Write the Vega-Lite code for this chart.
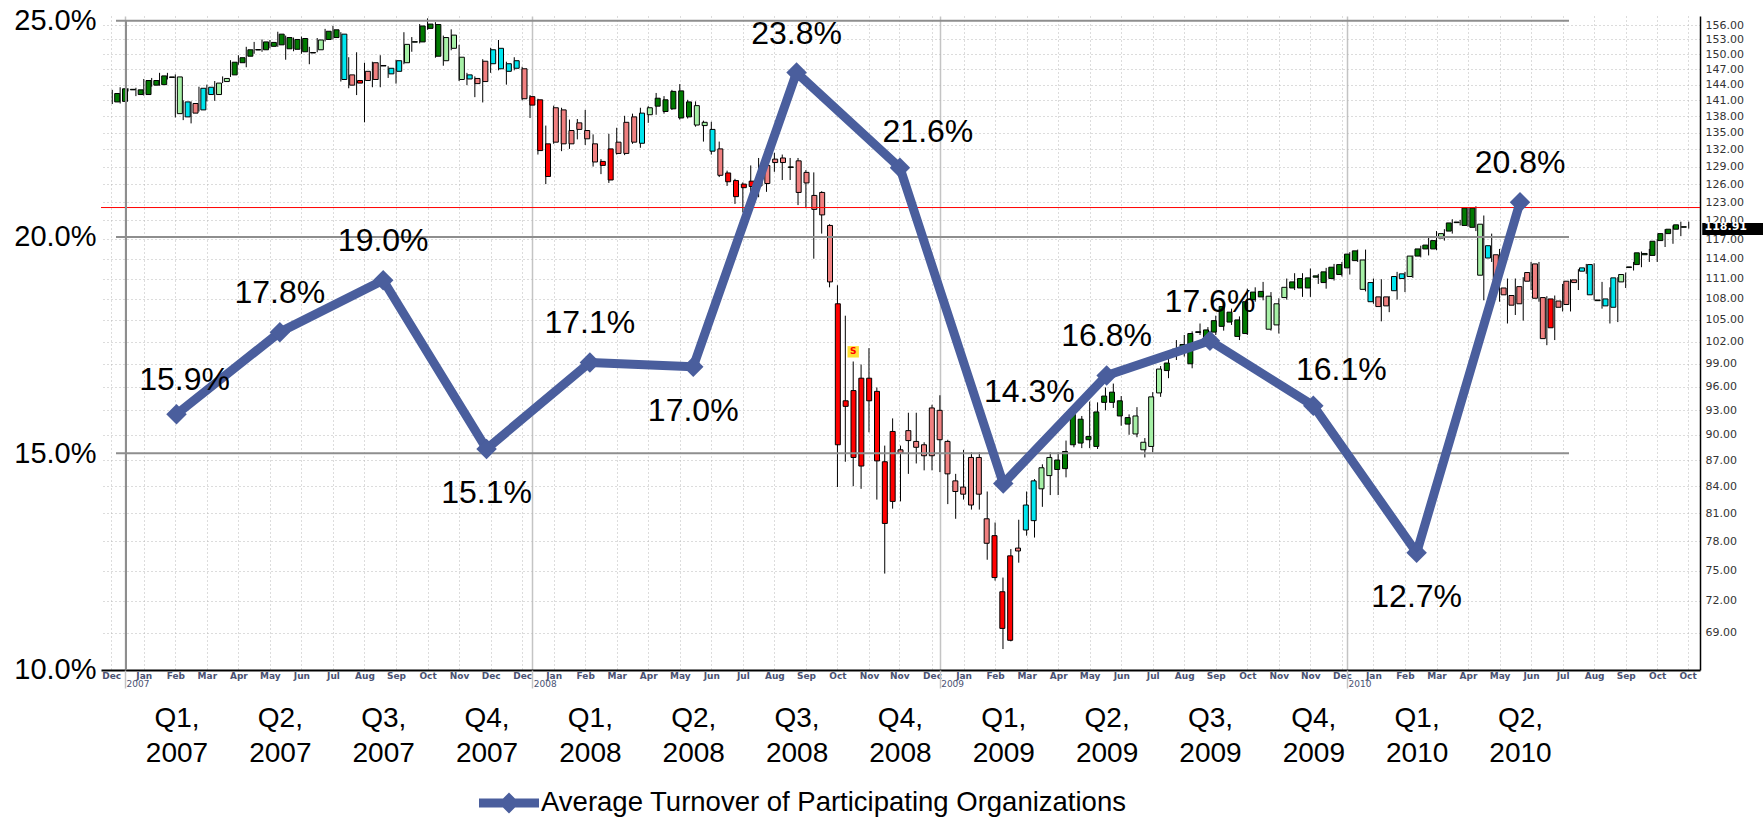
{
  "$schema": "https://vega.github.io/schema/vega-lite/v6.json",
  "width": 1599,
  "height": 654,
  "autosize": {"type": "none"},
  "padding": {"left": 101, "top": 16, "right": 63, "bottom": 150},
  "background": "white",
  "config": {"view": {"stroke": null}, "font": "Liberation Sans"},
  "datasets": {
    "candles": [
      {"d":"2007-01-01","o":140.7,"h":143.0,"l":140.3,"c":142.3,"s":"strong up"},
      {"d":"2007-01-08","o":140.8,"h":143.5,"l":140.4,"c":143.2,"s":"strong up"},
      {"d":"2007-01-15","o":143.0,"h":143.3,"l":142.7,"c":143.1,"s":"strong up"},
      {"d":"2007-01-22","o":142.1,"h":143.4,"l":141.8,"c":143.0,"s":"strong up"},
      {"d":"2007-01-29","o":142.1,"h":145.1,"l":141.9,"c":144.8,"s":"strong up"},
      {"d":"2007-02-05","o":143.9,"h":145.3,"l":143.6,"c":144.8,"s":"strong up"},
      {"d":"2007-02-12","o":144.0,"h":146.3,"l":143.8,"c":145.7,"s":"strong up"},
      {"d":"2007-02-19","o":145.4,"h":146.3,"l":145.0,"c":145.5,"s":"strong up"},
      {"d":"2007-02-26","o":145.5,"h":146.0,"l":137.8,"c":138.5,"s":"weak up"},
      {"d":"2007-03-05","o":137.9,"h":141.0,"l":137.3,"c":140.7,"s":"neutral"},
      {"d":"2007-03-12","o":140.4,"h":140.8,"l":136.7,"c":138.6,"s":"weak down"},
      {"d":"2007-03-19","o":139.2,"h":143.6,"l":138.9,"c":143.3,"s":"neutral"},
      {"d":"2007-03-26","o":143.5,"h":144.0,"l":140.8,"c":142.1,"s":"neutral"},
      {"d":"2007-04-02","o":142.1,"h":144.7,"l":140.9,"c":144.3,"s":"weak up"},
      {"d":"2007-04-09","o":144.6,"h":145.6,"l":144.3,"c":145.2,"s":"weak up"},
      {"d":"2007-04-16","o":145.9,"h":148.8,"l":145.5,"c":148.4,"s":"strong up"},
      {"d":"2007-04-23","o":148.3,"h":149.8,"l":147.9,"c":149.3,"s":"strong up"},
      {"d":"2007-04-30","o":149.6,"h":151.5,"l":147.4,"c":150.9,"s":"strong up"},
      {"d":"2007-05-07","o":150.85,"h":152.5,"l":150.1,"c":150.95,"s":"strong up"},
      {"d":"2007-05-14","o":150.9,"h":153.0,"l":150.5,"c":152.5,"s":"strong up"},
      {"d":"2007-05-21","o":151.6,"h":152.9,"l":151.2,"c":152.4,"s":"strong up"},
      {"d":"2007-05-28","o":151.9,"h":154.6,"l":151.5,"c":154.1,"s":"strong up"},
      {"d":"2007-06-04","o":153.4,"h":153.8,"l":148.9,"c":151.1,"s":"strong up"},
      {"d":"2007-06-11","o":151.0,"h":153.4,"l":150.6,"c":153.0,"s":"strong up"},
      {"d":"2007-06-18","o":153.2,"h":153.6,"l":150.1,"c":150.5,"s":"strong up"},
      {"d":"2007-06-25","o":150.25,"h":151.5,"l":148.0,"c":150.35,"s":"strong up"},
      {"d":"2007-07-02","o":150.9,"h":153.3,"l":150.4,"c":152.9,"s":"weak up"},
      {"d":"2007-07-09","o":153.0,"h":155.2,"l":152.6,"c":154.7,"s":"strong up"},
      {"d":"2007-07-16","o":153.4,"h":155.8,"l":153.0,"c":155.0,"s":"strong up"},
      {"d":"2007-07-23","o":154.1,"h":154.5,"l":144.6,"c":145.0,"s":"neutral"},
      {"d":"2007-07-30","o":145.9,"h":149.4,"l":143.3,"c":143.9,"s":"weak down"},
      {"d":"2007-08-06","o":144.8,"h":150.4,"l":142.0,"c":144.3,"s":"strong down"},
      {"d":"2007-08-13","o":146.6,"h":148.3,"l":136.9,"c":144.8,"s":"weak down"},
      {"d":"2007-08-20","o":145.0,"h":148.5,"l":143.5,"c":148.3,"s":"weak down"},
      {"d":"2007-08-27","o":147.65,"h":149.8,"l":143.5,"c":147.75,"s":"strong up"},
      {"d":"2007-09-03","o":147.2,"h":147.6,"l":145.3,"c":146.1,"s":"neutral"},
      {"d":"2007-09-10","o":146.6,"h":148.9,"l":144.2,"c":148.7,"s":"neutral"},
      {"d":"2007-09-17","o":148.3,"h":154.5,"l":148.0,"c":152.0,"s":"weak up"},
      {"d":"2007-09-24","o":152.45,"h":153.5,"l":150.5,"c":152.55,"s":"strong up"},
      {"d":"2007-10-01","o":152.5,"h":156.2,"l":152.2,"c":155.8,"s":"strong up"},
      {"d":"2007-10-08","o":155.3,"h":157.4,"l":155.0,"c":156.2,"s":"strong up"},
      {"d":"2007-10-15","o":156.1,"h":156.6,"l":149.3,"c":149.6,"s":"strong up"},
      {"d":"2007-10-22","o":148.7,"h":153.8,"l":147.7,"c":153.4,"s":"weak up"},
      {"d":"2007-10-29","o":153.9,"h":155.1,"l":150.8,"c":151.2,"s":"weak up"},
      {"d":"2007-11-05","o":149.4,"h":151.9,"l":144.7,"c":145.0,"s":"weak up"},
      {"d":"2007-11-12","o":145.1,"h":146.3,"l":143.9,"c":145.9,"s":"neutral"},
      {"d":"2007-11-19","o":145.2,"h":145.6,"l":141.6,"c":144.2,"s":"weak down"},
      {"d":"2007-11-26","o":144.6,"h":149.0,"l":140.6,"c":148.6,"s":"weak down"},
      {"d":"2007-12-03","o":148.1,"h":151.3,"l":146.3,"c":150.9,"s":"neutral"},
      {"d":"2007-12-10","o":151.2,"h":152.9,"l":146.8,"c":147.1,"s":"neutral"},
      {"d":"2007-12-17","o":146.6,"h":148.5,"l":144.0,"c":148.1,"s":"neutral"},
      {"d":"2007-12-24","o":148.7,"h":149.4,"l":146.8,"c":147.2,"s":"neutral"},
      {"d":"2007-12-31","o":147.1,"h":147.5,"l":141.0,"c":141.3,"s":"weak down"},
      {"d":"2008-01-07","o":141.7,"h":142.0,"l":137.7,"c":140.1,"s":"strong down"},
      {"d":"2008-01-14","o":141.1,"h":141.3,"l":131.1,"c":131.8,"s":"strong down"},
      {"d":"2008-01-21","o":127.3,"h":136.3,"l":126.0,"c":133.0,"s":"strong down"},
      {"d":"2008-01-28","o":133.3,"h":140.0,"l":133.0,"c":139.6,"s":"weak down"},
      {"d":"2008-02-04","o":139.2,"h":139.6,"l":131.7,"c":133.0,"s":"weak down"},
      {"d":"2008-02-11","o":133.0,"h":137.4,"l":132.1,"c":135.4,"s":"weak down"},
      {"d":"2008-02-18","o":135.6,"h":137.5,"l":133.8,"c":136.8,"s":"weak down"},
      {"d":"2008-02-25","o":135.4,"h":139.2,"l":132.8,"c":133.9,"s":"weak down"},
      {"d":"2008-03-03","o":133.0,"h":134.7,"l":129.0,"c":129.8,"s":"weak down"},
      {"d":"2008-03-10","o":129.9,"h":130.3,"l":127.7,"c":129.2,"s":"strong down"},
      {"d":"2008-03-17","o":126.7,"h":134.8,"l":126.2,"c":132.1,"s":"strong down"},
      {"d":"2008-03-24","o":133.3,"h":135.9,"l":131.1,"c":131.3,"s":"weak down"},
      {"d":"2008-03-31","o":131.3,"h":138.1,"l":131.0,"c":136.9,"s":"weak down"},
      {"d":"2008-04-07","o":137.9,"h":138.5,"l":133.0,"c":133.3,"s":"weak down"},
      {"d":"2008-04-14","o":133.1,"h":139.6,"l":132.3,"c":138.6,"s":"neutral"},
      {"d":"2008-04-21","o":138.3,"h":139.9,"l":136.8,"c":139.6,"s":"weak up"},
      {"d":"2008-04-28","o":139.9,"h":142.4,"l":138.3,"c":141.4,"s":"strong up"},
      {"d":"2008-05-05","o":141.1,"h":141.8,"l":138.5,"c":138.9,"s":"strong up"},
      {"d":"2008-05-12","o":139.4,"h":143.0,"l":139.2,"c":142.7,"s":"strong up"},
      {"d":"2008-05-19","o":142.8,"h":144.1,"l":137.4,"c":137.7,"s":"strong up"},
      {"d":"2008-05-26","o":137.9,"h":141.1,"l":137.6,"c":140.7,"s":"strong up"},
      {"d":"2008-06-02","o":140.0,"h":140.8,"l":136.1,"c":136.4,"s":"weak up"},
      {"d":"2008-06-09","o":136.3,"h":137.2,"l":133.4,"c":136.9,"s":"weak up"},
      {"d":"2008-06-16","o":135.6,"h":137.0,"l":131.1,"c":131.7,"s":"neutral"},
      {"d":"2008-06-23","o":132.1,"h":133.4,"l":127.2,"c":127.5,"s":"weak down"},
      {"d":"2008-06-30","o":127.9,"h":128.3,"l":125.7,"c":126.4,"s":"strong down"},
      {"d":"2008-07-07","o":126.6,"h":126.9,"l":122.7,"c":123.9,"s":"strong down"},
      {"d":"2008-07-14","o":125.4,"h":126.3,"l":121.3,"c":126.0,"s":"strong down"},
      {"d":"2008-07-21","o":126.5,"h":129.2,"l":123.5,"c":125.6,"s":"strong down"},
      {"d":"2008-07-28","o":125.7,"h":130.5,"l":123.8,"c":127.7,"s":"weak down"},
      {"d":"2008-08-04","o":126.1,"h":130.8,"l":124.7,"c":129.2,"s":"weak down"},
      {"d":"2008-08-11","o":130.3,"h":131.4,"l":128.1,"c":129.7,"s":"weak down"},
      {"d":"2008-08-18","o":130.5,"h":131.1,"l":126.7,"c":129.7,"s":"weak down"},
      {"d":"2008-08-25","o":128.85,"h":130.5,"l":126.7,"c":128.95,"s":"strong up"},
      {"d":"2008-09-01","o":130.0,"h":130.5,"l":122.5,"c":124.6,"s":"weak down"},
      {"d":"2008-09-08","o":126.2,"h":128.4,"l":122.0,"c":128.0,"s":"weak down"},
      {"d":"2008-09-15","o":124.1,"h":128.0,"l":114.0,"c":121.8,"s":"weak down"},
      {"d":"2008-09-22","o":124.6,"h":124.8,"l":117.9,"c":120.9,"s":"weak down"},
      {"d":"2008-09-29","o":119.2,"h":119.4,"l":109.7,"c":110.5,"s":"weak down"},
      {"d":"2008-10-06","o":107.3,"h":110.0,"l":83.9,"c":88.8,"s":"strong down"},
      {"d":"2008-10-13","o":93.5,"h":105.6,"l":86.8,"c":94.2,"s":"strong down"},
      {"d":"2008-10-20","o":95.5,"h":99.3,"l":84.0,"c":87.3,"s":"strong down"},
      {"d":"2008-10-27","o":86.3,"h":98.9,"l":83.7,"c":97.1,"s":"strong down"},
      {"d":"2008-11-03","o":97.1,"h":101.1,"l":90.3,"c":94.2,"s":"strong down"},
      {"d":"2008-11-10","o":95.4,"h":95.9,"l":82.5,"c":86.9,"s":"strong down"},
      {"d":"2008-11-17","o":86.8,"h":88.7,"l":74.7,"c":79.9,"s":"strong down"},
      {"d":"2008-11-24","o":82.3,"h":92.0,"l":81.5,"c":90.4,"s":"strong down"},
      {"d":"2008-12-01","o":88.2,"h":88.7,"l":82.3,"c":87.8,"s":"weak down"},
      {"d":"2008-12-08","o":89.3,"h":92.7,"l":85.4,"c":90.5,"s":"weak down"},
      {"d":"2008-12-15","o":89.2,"h":92.7,"l":86.6,"c":88.5,"s":"weak down"},
      {"d":"2008-12-22","o":88.8,"h":89.1,"l":85.8,"c":87.5,"s":"weak down"},
      {"d":"2008-12-29","o":87.5,"h":93.7,"l":85.8,"c":93.3,"s":"weak down"},
      {"d":"2009-01-05","o":93.0,"h":94.9,"l":85.6,"c":89.4,"s":"weak down"},
      {"d":"2009-01-12","o":89.2,"h":89.4,"l":82.0,"c":85.4,"s":"weak down"},
      {"d":"2009-01-19","o":84.6,"h":85.4,"l":80.4,"c":83.4,"s":"weak down"},
      {"d":"2009-01-26","o":83.1,"h":88.2,"l":82.5,"c":83.9,"s":"weak down"},
      {"d":"2009-02-02","o":81.9,"h":87.9,"l":81.4,"c":87.3,"s":"weak down"},
      {"d":"2009-02-09","o":87.3,"h":87.9,"l":81.4,"c":83.1,"s":"weak down"},
      {"d":"2009-02-16","o":80.4,"h":83.4,"l":76.1,"c":77.8,"s":"weak down"},
      {"d":"2009-02-23","o":78.6,"h":80.0,"l":74.0,"c":74.3,"s":"strong down"},
      {"d":"2009-03-02","o":72.9,"h":74.3,"l":67.5,"c":69.4,"s":"strong down"},
      {"d":"2009-03-09","o":68.3,"h":77.2,"l":68.2,"c":76.5,"s":"strong down"},
      {"d":"2009-03-16","o":77.0,"h":80.3,"l":75.8,"c":77.3,"s":"weak down"},
      {"d":"2009-03-23","o":79.2,"h":83.4,"l":78.6,"c":81.9,"s":"neutral"},
      {"d":"2009-03-30","o":80.2,"h":84.8,"l":78.4,"c":84.6,"s":"neutral"},
      {"d":"2009-04-06","o":83.7,"h":86.5,"l":81.7,"c":86.1,"s":"weak up"},
      {"d":"2009-04-13","o":85.2,"h":87.9,"l":83.0,"c":87.3,"s":"weak up"},
      {"d":"2009-04-20","o":85.9,"h":87.9,"l":83.0,"c":87.0,"s":"strong up"},
      {"d":"2009-04-27","o":86.0,"h":89.3,"l":85.0,"c":88.0,"s":"strong up"},
      {"d":"2009-05-04","o":88.8,"h":93.3,"l":88.5,"c":92.5,"s":"strong up"},
      {"d":"2009-05-11","o":91.9,"h":92.3,"l":88.4,"c":89.0,"s":"strong up"},
      {"d":"2009-05-18","o":89.4,"h":94.1,"l":88.4,"c":89.8,"s":"strong up"},
      {"d":"2009-05-25","o":88.6,"h":94.0,"l":88.3,"c":92.8,"s":"strong up"},
      {"d":"2009-06-01","o":94.0,"h":95.9,"l":93.0,"c":94.8,"s":"strong up"},
      {"d":"2009-06-08","o":94.0,"h":96.4,"l":93.3,"c":95.3,"s":"strong up"},
      {"d":"2009-06-15","o":94.2,"h":94.8,"l":91.1,"c":92.3,"s":"strong up"},
      {"d":"2009-06-22","o":91.3,"h":92.5,"l":90.0,"c":92.1,"s":"strong up"},
      {"d":"2009-06-29","o":92.3,"h":93.4,"l":89.7,"c":90.1,"s":"weak up"},
      {"d":"2009-07-06","o":89.1,"h":89.6,"l":87.3,"c":88.2,"s":"weak up"},
      {"d":"2009-07-13","o":88.6,"h":95.3,"l":87.9,"c":94.7,"s":"weak up"},
      {"d":"2009-07-20","o":95.2,"h":98.7,"l":94.7,"c":98.3,"s":"weak up"},
      {"d":"2009-07-27","o":98.1,"h":100.3,"l":97.1,"c":99.1,"s":"strong up"},
      {"d":"2009-08-03","o":100.85,"h":102.2,"l":99.5,"c":100.95,"s":"strong up"},
      {"d":"2009-08-10","o":101.3,"h":102.9,"l":99.97,"c":101.6,"s":"strong up"},
      {"d":"2009-08-17","o":99.0,"h":103.4,"l":98.4,"c":103.1,"s":"strong up"},
      {"d":"2009-08-24","o":103.25,"h":104.5,"l":102.9,"c":103.35,"s":"strong up"},
      {"d":"2009-08-31","o":102.3,"h":104.0,"l":101.8,"c":103.6,"s":"strong up"},
      {"d":"2009-09-07","o":103.3,"h":105.6,"l":102.9,"c":104.9,"s":"strong up"},
      {"d":"2009-09-14","o":104.1,"h":107.1,"l":103.5,"c":106.9,"s":"strong up"},
      {"d":"2009-09-21","o":104.7,"h":106.6,"l":104.3,"c":106.1,"s":"strong up"},
      {"d":"2009-09-28","o":102.7,"h":105.5,"l":102.2,"c":105.0,"s":"strong up"},
      {"d":"2009-10-05","o":103.1,"h":109.5,"l":102.9,"c":107.6,"s":"strong up"},
      {"d":"2009-10-12","o":107.9,"h":109.7,"l":107.6,"c":109.0,"s":"strong up"},
      {"d":"2009-10-19","o":108.3,"h":110.5,"l":107.8,"c":109.1,"s":"strong up"},
      {"d":"2009-10-26","o":103.7,"h":109.0,"l":103.5,"c":108.4,"s":"weak up"},
      {"d":"2009-11-02","o":104.3,"h":108.1,"l":103.1,"c":107.3,"s":"weak up"},
      {"d":"2009-11-09","o":108.2,"h":111.0,"l":107.9,"c":109.7,"s":"weak up"},
      {"d":"2009-11-16","o":109.6,"h":111.8,"l":109.3,"c":110.5,"s":"strong up"},
      {"d":"2009-11-23","o":109.6,"h":111.8,"l":108.3,"c":111.0,"s":"strong up"},
      {"d":"2009-11-30","o":109.6,"h":112.5,"l":108.3,"c":111.1,"s":"strong up"},
      {"d":"2009-12-07","o":111.2,"h":111.7,"l":110.2,"c":111.4,"s":"strong up"},
      {"d":"2009-12-14","o":110.4,"h":112.6,"l":109.5,"c":112.0,"s":"strong up"},
      {"d":"2009-12-21","o":111.0,"h":113.2,"l":110.7,"c":112.7,"s":"strong up"},
      {"d":"2009-12-28","o":111.6,"h":113.5,"l":111.3,"c":113.1,"s":"strong up"},
      {"d":"2010-01-04","o":112.6,"h":115.0,"l":111.6,"c":114.7,"s":"strong up"},
      {"d":"2010-01-11","o":113.7,"h":115.4,"l":113.5,"c":115.2,"s":"strong up"},
      {"d":"2010-01-18","o":113.8,"h":115.4,"l":109.1,"c":109.4,"s":"weak up"},
      {"d":"2010-01-25","o":107.6,"h":111.0,"l":107.3,"c":110.4,"s":"neutral"},
      {"d":"2010-02-01","o":108.3,"h":110.9,"l":104.8,"c":106.9,"s":"weak down"},
      {"d":"2010-02-08","o":108.3,"h":108.4,"l":106.1,"c":107.0,"s":"weak down"},
      {"d":"2010-02-15","o":109.2,"h":112.0,"l":107.9,"c":111.3,"s":"neutral"},
      {"d":"2010-02-22","o":111.0,"h":112.0,"l":109.0,"c":111.7,"s":"neutral"},
      {"d":"2010-03-01","o":111.3,"h":114.5,"l":111.1,"c":114.4,"s":"weak up"},
      {"d":"2010-03-08","o":114.4,"h":116.0,"l":114.2,"c":115.5,"s":"strong up"},
      {"d":"2010-03-15","o":115.5,"h":117.4,"l":114.5,"c":116.1,"s":"strong up"},
      {"d":"2010-03-22","o":115.5,"h":118.3,"l":115.3,"c":116.8,"s":"strong up"},
      {"d":"2010-03-29","o":117.2,"h":118.6,"l":116.8,"c":117.9,"s":"weak up"},
      {"d":"2010-04-05","o":118.3,"h":120.2,"l":117.9,"c":119.6,"s":"strong up"},
      {"d":"2010-04-12","o":119.65,"h":120.1,"l":119.2,"c":119.75,"s":"strong up"},
      {"d":"2010-04-19","o":119.2,"h":122.1,"l":119.0,"c":122.0,"s":"strong up"},
      {"d":"2010-04-26","o":122.0,"h":122.3,"l":118.3,"c":118.9,"s":"strong up"},
      {"d":"2010-05-03","o":119.4,"h":120.8,"l":107.8,"c":111.5,"s":"weak up"},
      {"d":"2010-05-10","o":114.1,"h":117.9,"l":113.5,"c":116.0,"s":"neutral"},
      {"d":"2010-05-17","o":114.6,"h":115.5,"l":107.6,"c":109.5,"s":"weak down"},
      {"d":"2010-05-24","o":109.6,"h":111.0,"l":104.5,"c":108.6,"s":"weak down"},
      {"d":"2010-05-31","o":108.5,"h":111.0,"l":105.7,"c":107.1,"s":"weak down"},
      {"d":"2010-06-07","o":107.3,"h":111.2,"l":104.9,"c":109.8,"s":"weak down"},
      {"d":"2010-06-14","o":110.6,"h":113.5,"l":109.3,"c":111.9,"s":"weak down"},
      {"d":"2010-06-21","o":113.2,"h":113.5,"l":107.6,"c":108.1,"s":"weak down"},
      {"d":"2010-06-28","o":108.2,"h":108.4,"l":101.5,"c":102.4,"s":"weak down"},
      {"d":"2010-07-05","o":103.9,"h":108.5,"l":102.2,"c":108.0,"s":"strong down"},
      {"d":"2010-07-12","o":107.7,"h":110.2,"l":106.2,"c":106.8,"s":"weak down"},
      {"d":"2010-07-19","o":107.2,"h":110.9,"l":106.2,"c":110.6,"s":"weak down"},
      {"d":"2010-07-26","o":110.8,"h":112.4,"l":109.3,"c":110.4,"s":"weak down"},
      {"d":"2010-08-02","o":112.1,"h":113.2,"l":111.7,"c":112.6,"s":"neutral"},
      {"d":"2010-08-09","o":113.1,"h":113.3,"l":107.8,"c":108.6,"s":"neutral"},
      {"d":"2010-08-16","o":107.75,"h":110.5,"l":106.6,"c":107.85,"s":"strong up"},
      {"d":"2010-08-23","o":108.0,"h":109.7,"l":104.5,"c":107.0,"s":"neutral"},
      {"d":"2010-08-30","o":106.8,"h":111.2,"l":104.7,"c":111.1,"s":"neutral"},
      {"d":"2010-09-06","o":110.5,"h":111.9,"l":109.6,"c":111.6,"s":"weak up"},
      {"d":"2010-09-13","o":112.65,"h":113.5,"l":112.2,"c":112.75,"s":"strong up"},
      {"d":"2010-09-20","o":113.1,"h":115.1,"l":112.7,"c":114.9,"s":"strong up"},
      {"d":"2010-09-27","o":114.6,"h":115.5,"l":113.5,"c":114.8,"s":"strong up"},
      {"d":"2010-10-04","o":114.5,"h":117.0,"l":113.5,"c":116.7,"s":"strong up"},
      {"d":"2010-10-11","o":116.8,"h":118.6,"l":115.8,"c":117.9,"s":"strong up"},
      {"d":"2010-10-18","o":117.9,"h":119.2,"l":116.3,"c":118.6,"s":"strong up"},
      {"d":"2010-10-25","o":118.6,"h":119.8,"l":117.5,"c":119.3,"s":"strong up"},
      {"d":"2010-11-01","o":119.0,"h":119.8,"l":118.7,"c":118.91,"s":"strong up"}
    ],
    "turnover": [
      {"q":"Q1, 2007","v":0.159},
      {"q":"Q2, 2007","v":0.178},
      {"q":"Q3, 2007","v":0.190},
      {"q":"Q4, 2007","v":0.151},
      {"q":"Q1, 2008","v":0.171},
      {"q":"Q2, 2008","v":0.170},
      {"q":"Q3, 2008","v":0.238},
      {"q":"Q4, 2008","v":0.216},
      {"q":"Q1, 2009","v":0.143},
      {"q":"Q2, 2009","v":0.168},
      {"q":"Q3, 2009","v":0.176},
      {"q":"Q4, 2009","v":0.161},
      {"q":"Q1, 2010","v":0.127},
      {"q":"Q2, 2010","v":0.208}
    ]
  },
  "layer": [
    {
      "data": {"name": "candles"},
      "mark": {"type": "rule", "color": "#000000", "strokeWidth": 1},
      "encoding": {
        "x": {
          "field": "d", "type": "temporal",
          "scale": {"type": "utc", "nice": false, "domain": [{"year": 2006, "month": 12, "date": 22, "utc": true}, {"year": 2010, "month": 11, "date": 11, "utc": true}]},
          "axis": {
            "orient": "bottom", "title": null, "labelExpr": "utcFormat(datum.value, '%b')",
            "values": [
              {"year":2006,"month":12,"date":31,"utc":true},{"year":2007,"month":1,"date":29,"utc":true},{"year":2007,"month":2,"date":26,"utc":true},{"year":2007,"month":3,"date":26,"utc":true},{"year":2007,"month":4,"date":23,"utc":true},{"year":2007,"month":5,"date":21,"utc":true},{"year":2007,"month":6,"date":18,"utc":true},{"year":2007,"month":7,"date":16,"utc":true},{"year":2007,"month":8,"date":13,"utc":true},{"year":2007,"month":9,"date":10,"utc":true},{"year":2007,"month":10,"date":8,"utc":true},{"year":2007,"month":11,"date":5,"utc":true},{"year":2007,"month":12,"date":3,"utc":true},{"year":2007,"month":12,"date":31,"utc":true},
              {"year":2008,"month":1,"date":28,"utc":true},{"year":2008,"month":2,"date":25,"utc":true},{"year":2008,"month":3,"date":24,"utc":true},{"year":2008,"month":4,"date":21,"utc":true},{"year":2008,"month":5,"date":19,"utc":true},{"year":2008,"month":6,"date":16,"utc":true},{"year":2008,"month":7,"date":14,"utc":true},{"year":2008,"month":8,"date":11,"utc":true},{"year":2008,"month":9,"date":8,"utc":true},{"year":2008,"month":10,"date":6,"utc":true},{"year":2008,"month":11,"date":3,"utc":true},{"year":2008,"month":11,"date":30,"utc":true},{"year":2008,"month":12,"date":29,"utc":true},
              {"year":2009,"month":1,"date":26,"utc":true},{"year":2009,"month":2,"date":23,"utc":true},{"year":2009,"month":3,"date":23,"utc":true},{"year":2009,"month":4,"date":20,"utc":true},{"year":2009,"month":5,"date":18,"utc":true},{"year":2009,"month":6,"date":15,"utc":true},{"year":2009,"month":7,"date":13,"utc":true},{"year":2009,"month":8,"date":10,"utc":true},{"year":2009,"month":9,"date":7,"utc":true},{"year":2009,"month":10,"date":5,"utc":true},{"year":2009,"month":11,"date":2,"utc":true},{"year":2009,"month":11,"date":30,"utc":true},{"year":2009,"month":12,"date":28,"utc":true},
              {"year":2010,"month":1,"date":25,"utc":true},{"year":2010,"month":2,"date":22,"utc":true},{"year":2010,"month":3,"date":22,"utc":true},{"year":2010,"month":4,"date":19,"utc":true},{"year":2010,"month":5,"date":17,"utc":true},{"year":2010,"month":6,"date":14,"utc":true},{"year":2010,"month":7,"date":12,"utc":true},{"year":2010,"month":8,"date":9,"utc":true},{"year":2010,"month":9,"date":6,"utc":true},{"year":2010,"month":10,"date":4,"utc":true},{"year":2010,"month":10,"date":31,"utc":true}
            ],
            "grid": true, "gridColor": "#B8B8B8", "gridDash": [1, 3], "gridWidth": 1,
            "ticks": false, "domain": true, "domainColor": "#000000", "domainWidth": 2,
            "labelFont": "DejaVu Sans", "labelFontWeight": "bold", "labelFontSize": 9, "labelColor": "#4A5272",
            "labelPadding": 1, "labelBaseline": "top", "labelAlign": "center", "labelOverlap": false, "labelFlush": false, "labelBound": false
          }
        },
        "y": {
          "field": "l", "type": "quantitative",
          "scale": {"type": "log", "domain": [65.63, 157.9], "nice": false},
          "axis": {
            "orient": "right", "title": null,
            "values": [69,72,75,78,81,84,87,90,93,96,99,102,105,108,111,114,117,120,123,126,129,132,135,138,141,144,147,150,153,156],
            "format": ".2f", "grid": true, "gridColor": "#B8B8B8", "gridDash": [1, 3], "gridWidth": 1,
            "ticks": false, "domain": true, "domainColor": "#000000", "domainWidth": 1.5,
            "labelFont": "DejaVu Sans", "labelFontSize": 11, "labelColor": "#333333", "labelPadding": 5,
            "labelOverlap": false, "labelFlush": false, "labelBound": false
          }
        },
        "y2": {"field": "h"}
      }
    },
    {
      "data": {"name": "candles"},
      "mark": {"type": "bar", "width": 5, "stroke": "#000000", "strokeWidth": 1},
      "encoding": {
        "x": {
          "field": "d", "type": "temporal",
          "scale": {"type": "utc", "nice": false, "domain": [{"year": 2006, "month": 12, "date": 22, "utc": true}, {"year": 2010, "month": 11, "date": 11, "utc": true}]},
          "axis": {
            "orient": "bottom", "title": null, "labelExpr": "utcFormat(datum.value, '%Y')",
            "values": [{"year":2007,"month":1,"date":8,"utc":true},{"year":2008,"month":1,"date":7,"utc":true},{"year":2009,"month":1,"date":5,"utc":true},{"year":2010,"month":1,"date":4,"utc":true}],
            "grid": true, "gridColor": "#C4C4C4", "gridWidth": 1.5,
            "ticks": true, "tickSize": 18, "tickColor": "#C4C4C4", "tickWidth": 1.5, "domain": false,
            "labelFont": "DejaVu Sans", "labelFontSize": 9, "labelColor": "#4A5272",
            "labelPadding": -9, "labelAlign": "left", "labelBaseline": "top", "labelOffset": 1,
            "labelOverlap": false, "labelFlush": false, "labelBound": false
          }
        },
        "y": {"field": "o", "type": "quantitative", "scale": {"type": "log", "domain": [65.63, 157.9], "nice": false}, "axis": null},
        "y2": {"field": "c"},
        "fill": {
          "field": "s", "type": "nominal", "legend": null,
          "scale": {"domain": ["strong up", "weak up", "neutral", "weak down", "strong down"], "range": ["#007A00", "#A6F0A6", "#00E5EE", "#F08080", "#FF0000"]}
        }
      }
    },
    {
      "data": {"values": [{"level": 122.1}]},
      "mark": {"type": "rule", "color": "#FF0000", "strokeWidth": 1},
      "encoding": {"y": {"field": "level", "type": "quantitative", "scale": {"type": "log", "domain": [65.63, 157.9], "nice": false}, "axis": null}}
    },
    {
      "data": {"values": [{"d": "2008-10-20", "p": 100.6, "sig": "S"}]},
      "mark": {"type": "point", "shape": "square", "size": 130, "filled": true, "color": "#FFE135", "opacity": 1},
      "encoding": {
        "x": {"field": "d", "type": "temporal", "scale": {"type": "utc", "nice": false, "domain": [{"year": 2006, "month": 12, "date": 22, "utc": true}, {"year": 2010, "month": 11, "date": 11, "utc": true}]}, "axis": null},
        "y": {"field": "p", "type": "quantitative", "scale": {"type": "log", "domain": [65.63, 157.9], "nice": false}, "axis": null}
      }
    },
    {
      "data": {"values": [{"d": "2008-10-20", "p": 100.6, "sig": "S"}]},
      "mark": {"type": "text", "font": "DejaVu Sans", "fontWeight": "bold", "fontSize": 9, "color": "#FF0000", "baseline": "middle", "align": "center", "dy": -1},
      "encoding": {
        "x": {"field": "d", "type": "temporal", "scale": {"type": "utc", "nice": false, "domain": [{"year": 2006, "month": 12, "date": 22, "utc": true}, {"year": 2010, "month": 11, "date": 11, "utc": true}]}, "axis": null},
        "y": {"field": "p", "type": "quantitative", "scale": {"type": "log", "domain": [65.63, 157.9], "nice": false}, "axis": null},
        "text": {"field": "sig"}
      }
    },
    {
      "data": {"values": [{"last": 118.91}]},
      "mark": {"type": "bar", "color": "#000000", "height": 12},
      "encoding": {
        "x": {"datum": {"year": 2010, "month": 11, "date": 13, "utc": true}, "type": "temporal", "scale": {"type": "utc", "nice": false, "domain": [{"year": 2006, "month": 12, "date": 22, "utc": true}, {"year": 2010, "month": 11, "date": 11, "utc": true}]}, "axis": null},
        "x2": {"datum": {"year": 2011, "month": 1, "date": 6, "utc": true}},
        "y": {"field": "last", "type": "quantitative", "scale": {"type": "log", "domain": [65.63, 157.9], "nice": false}, "axis": null}
      }
    },
    {
      "data": {"values": [{"last": 118.91}]},
      "mark": {"type": "text", "font": "DejaVu Sans", "fontWeight": "bold", "fontSize": 11, "color": "#FFFFFF", "align": "left", "baseline": "middle"},
      "encoding": {
        "x": {"datum": {"year": 2010, "month": 11, "date": 15, "utc": true}, "type": "temporal", "scale": {"type": "utc", "nice": false, "domain": [{"year": 2006, "month": 12, "date": 22, "utc": true}, {"year": 2010, "month": 11, "date": 11, "utc": true}]}, "axis": null},
        "y": {"field": "last", "type": "quantitative", "scale": {"type": "log", "domain": [65.63, 157.9], "nice": false}, "axis": null},
        "text": {"field": "last", "type": "quantitative", "format": ".2f"}
      }
    },
    {
      "data": {"values": [{"g": 0.15}, {"g": 0.20}, {"g": 0.25}]},
      "mark": {"type": "rule", "color": "#8E8E8E", "strokeWidth": 2, "xOffset": -60.5, "x2Offset": 49},
      "encoding": {
        "x": {"datum": "Q1, 2007", "type": "nominal", "scale": {"type": "point", "padding": 0, "domain": ["Q1, 2007","Q2, 2007","Q3, 2007","Q4, 2007","Q1, 2008","Q2, 2008","Q3, 2008","Q4, 2008","Q1, 2009","Q2, 2009","Q3, 2009","Q4, 2009","Q1, 2010","Q2, 2010"], "range": [75.5, 1419]}, "axis": null},
        "x2": {"datum": "Q2, 2010"},
        "y": {"field": "g", "type": "quantitative", "axis": null, "scale": {"domain": [0.0999, 0.25108], "nice": false, "zero": false}}
      }
    },
    {
      "data": {"values": [{"top": 0.25, "bottom": 0.10}]},
      "mark": {"type": "rule", "color": "#8E8E8E", "strokeWidth": 2, "xOffset": -50.5},
      "encoding": {
        "x": {"datum": "Q1, 2007", "type": "nominal", "scale": {"type": "point", "padding": 0, "domain": ["Q1, 2007","Q2, 2007","Q3, 2007","Q4, 2007","Q1, 2008","Q2, 2008","Q3, 2008","Q4, 2008","Q1, 2009","Q2, 2009","Q3, 2009","Q4, 2009","Q1, 2010","Q2, 2010"], "range": [75.5, 1419]}, "axis": null},
        "y": {"field": "top", "type": "quantitative", "axis": null, "scale": {"domain": [0.0999, 0.25108], "nice": false, "zero": false}},
        "y2": {"field": "bottom"}
      }
    },
    {
      "data": {"name": "turnover"},
      "mark": {"type": "line", "strokeWidth": 9, "strokeJoin": "round", "strokeCap": "round"},
      "encoding": {
        "x": {
          "field": "q", "type": "nominal", "sort": null,
          "scale": {"type": "point", "padding": 0, "domain": ["Q1, 2007","Q2, 2007","Q3, 2007","Q4, 2007","Q1, 2008","Q2, 2008","Q3, 2008","Q4, 2008","Q1, 2009","Q2, 2009","Q3, 2009","Q4, 2009","Q1, 2010","Q2, 2010"], "range": [75.5, 1419]},
          "axis": {
            "orient": "bottom", "title": null, "labelExpr": "split(datum.label, ' ')",
            "ticks": false, "domain": false, "grid": false, "labelAngle": 0,
            "labelFont": "Liberation Sans", "labelFontSize": 28, "labelLineHeight": 35, "labelColor": "#000000",
            "labelPadding": 34, "labelBaseline": "top", "labelOverlap": false
          }
        },
        "y": {
          "field": "v", "type": "quantitative",
          "scale": {"domain": [0.0999, 0.25108], "nice": false, "zero": false},
          "axis": {
            "orient": "left", "title": null, "values": [0.10, 0.15, 0.20, 0.25], "format": ".1%",
            "grid": false, "ticks": false, "domain": false,
            "labelFont": "Liberation Sans", "labelFontSize": 29, "labelColor": "#000000", "labelPadding": 5,
            "labelOverlap": false, "labelFlush": false, "labelBound": false
          }
        },
        "color": {
          "datum": "Average Turnover of Participating Organizations", "type": "nominal",
          "scale": {"range": ["#4A5E9D"]},
          "legend": {
            "orient": "none", "legendX": 378, "legendY": 757, "title": null, "padding": 0,
            "symbolType": "M-1,-0.15L1,-0.15L1,0.15L-1,0.15Z M0,-0.35L0.35,0L0,0.35L-0.35,0Z",
            "symbolSize": 3600, "symbolStrokeWidth": 0, "symbolFillColor": "#4A5E9D", "symbolOpacity": 1,
            "labelFont": "Liberation Sans", "labelFontSize": 27.5, "labelColor": "#000000", "labelLimit": 0, "labelOffset": 2,
            "encode": {"symbols": {"update": {"fill": {"value": "#4A5E9D"}, "stroke": {"value": "#4A5E9D"}, "strokeWidth": {"value": 0}}}}
          }
        }
      }
    },
    {
      "data": {"name": "turnover"},
      "mark": {"type": "point", "shape": "diamond", "filled": true, "size": 420, "color": "#4A5E9D", "opacity": 1},
      "encoding": {
        "x": {"field": "q", "type": "nominal", "scale": {"type": "point", "padding": 0, "domain": ["Q1, 2007","Q2, 2007","Q3, 2007","Q4, 2007","Q1, 2008","Q2, 2008","Q3, 2008","Q4, 2008","Q1, 2009","Q2, 2009","Q3, 2009","Q4, 2009","Q1, 2010","Q2, 2010"], "range": [75.5, 1419]}, "axis": null},
        "y": {"field": "v", "type": "quantitative", "scale": {"domain": [0.0999, 0.25108], "nice": false, "zero": false}, "axis": null}
      }
    },
    {
      "data": {"name": "turnover"},
      "transform": [{"filter": {"field": "q", "oneOf": ["Q2, 2007","Q3, 2007","Q1, 2008","Q3, 2008","Q2, 2009","Q3, 2009","Q2, 2010"]}}],
      "mark": {"type": "text", "font": "Liberation Sans", "fontSize": 32, "color": "#000000", "align": "center", "baseline": "middle", "dy": -39},
      "encoding": {
        "x": {"field": "q", "type": "nominal", "scale": {"type": "point", "padding": 0, "domain": ["Q1, 2007","Q2, 2007","Q3, 2007","Q4, 2007","Q1, 2008","Q2, 2008","Q3, 2008","Q4, 2008","Q1, 2009","Q2, 2009","Q3, 2009","Q4, 2009","Q1, 2010","Q2, 2010"], "range": [75.5, 1419]}, "axis": null},
        "y": {"field": "v", "type": "quantitative", "scale": {"domain": [0.0999, 0.25108], "nice": false, "zero": false}, "axis": null},
        "text": {"field": "v", "type": "quantitative", "format": ".1%"}
      }
    },
    {
      "data": {"name": "turnover"},
      "transform": [{"filter": {"field": "q", "oneOf": ["Q1, 2007"]}}],
      "mark": {"type": "text", "font": "Liberation Sans", "fontSize": 32, "color": "#000000", "align": "center", "baseline": "middle", "dx": 8, "dy": -34},
      "encoding": {
        "x": {"field": "q", "type": "nominal", "scale": {"type": "point", "padding": 0, "domain": ["Q1, 2007","Q2, 2007","Q3, 2007","Q4, 2007","Q1, 2008","Q2, 2008","Q3, 2008","Q4, 2008","Q1, 2009","Q2, 2009","Q3, 2009","Q4, 2009","Q1, 2010","Q2, 2010"], "range": [75.5, 1419]}, "axis": null},
        "y": {"field": "v", "type": "quantitative", "scale": {"domain": [0.0999, 0.25108], "nice": false, "zero": false}, "axis": null},
        "text": {"field": "v", "type": "quantitative", "format": ".1%"}
      }
    },
    {
      "data": {"name": "turnover"},
      "transform": [{"filter": {"field": "q", "oneOf": ["Q4, 2007","Q2, 2008","Q1, 2010"]}}],
      "mark": {"type": "text", "font": "Liberation Sans", "fontSize": 32, "color": "#000000", "align": "center", "baseline": "middle", "dy": 44},
      "encoding": {
        "x": {"field": "q", "type": "nominal", "scale": {"type": "point", "padding": 0, "domain": ["Q1, 2007","Q2, 2007","Q3, 2007","Q4, 2007","Q1, 2008","Q2, 2008","Q3, 2008","Q4, 2008","Q1, 2009","Q2, 2009","Q3, 2009","Q4, 2009","Q1, 2010","Q2, 2010"], "range": [75.5, 1419]}, "axis": null},
        "y": {"field": "v", "type": "quantitative", "scale": {"domain": [0.0999, 0.25108], "nice": false, "zero": false}, "axis": null},
        "text": {"field": "v", "type": "quantitative", "format": ".1%"}
      }
    },
    {
      "data": {"name": "turnover"},
      "transform": [{"filter": {"field": "q", "oneOf": ["Q4, 2008","Q4, 2009"]}}],
      "mark": {"type": "text", "font": "Liberation Sans", "fontSize": 32, "color": "#000000", "align": "center", "baseline": "middle", "dx": 28, "dy": -36},
      "encoding": {
        "x": {"field": "q", "type": "nominal", "scale": {"type": "point", "padding": 0, "domain": ["Q1, 2007","Q2, 2007","Q3, 2007","Q4, 2007","Q1, 2008","Q2, 2008","Q3, 2008","Q4, 2008","Q1, 2009","Q2, 2009","Q3, 2009","Q4, 2009","Q1, 2010","Q2, 2010"], "range": [75.5, 1419]}, "axis": null},
        "y": {"field": "v", "type": "quantitative", "scale": {"domain": [0.0999, 0.25108], "nice": false, "zero": false}, "axis": null},
        "text": {"field": "v", "type": "quantitative", "format": ".1%"}
      }
    },
    {
      "data": {"name": "turnover"},
      "transform": [{"filter": {"field": "q", "oneOf": ["Q1, 2009"]}}],
      "mark": {"type": "text", "font": "Liberation Sans", "fontSize": 32, "color": "#000000", "align": "center", "baseline": "middle", "dx": 26, "dy": -92},
      "encoding": {
        "x": {"field": "q", "type": "nominal", "scale": {"type": "point", "padding": 0, "domain": ["Q1, 2007","Q2, 2007","Q3, 2007","Q4, 2007","Q1, 2008","Q2, 2008","Q3, 2008","Q4, 2008","Q1, 2009","Q2, 2009","Q3, 2009","Q4, 2009","Q1, 2010","Q2, 2010"], "range": [75.5, 1419]}, "axis": null},
        "y": {"field": "v", "type": "quantitative", "scale": {"domain": [0.0999, 0.25108], "nice": false, "zero": false}, "axis": null},
        "text": {"field": "v", "type": "quantitative", "format": ".1%"}
      }
    }
  ],
  "resolve": {"scale": {"x": "independent", "y": "independent", "fill": "independent", "color": "independent"}}
}
